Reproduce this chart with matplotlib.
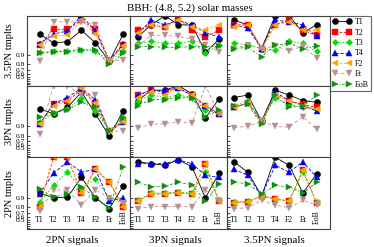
import numpy as np
import matplotlib.pyplot as plt
from matplotlib.lines import Line2D

plt.rcParams['font.family'] = ['Liberation Serif', 'DejaVu Serif']

families = ['T1', 'T2', 'T3', 'T4', 'F2', 'Et', 'EoB']
col_titles = ['2PN signals', '3PN signals', '3.5PN signals']
row_titles = ['3.5PN tmplts', '3PN tmplts', '2PN tmplts']

# matches, one list per template family, values over signal family T1..EoB
m35_2 = [[0.980, 0.961, 0.964, 0.985, 0.961, 0.845, 0.980],
         [0.954, 0.986, 0.986, 0.993, 0.986, 0.845, 0.954],
         [0.920, 0.925, 0.930, 0.935, 0.930, 0.850, 0.925],
         [0.958, 0.980, 0.984, 0.995, 0.984, 0.855, 0.958],
         [0.955, 0.977, 0.978, 0.993, 0.980, 0.845, 0.950],
         [0.850, 0.992, 0.992, 0.992, 0.990, 0.845, 0.857],
         [0.913, 0.924, 0.924, 0.933, 0.933, 0.800, 0.913]]
m35_3 = [[0.975, 0.990, 0.995, 0.990, 0.990, 0.920, 0.970],
         [0.985, 0.990, 0.988, 0.994, 0.985, 0.975, 0.985],
         [0.960, 0.965, 0.960, 0.960, 0.965, 0.913, 0.955],
         [0.980, 0.993, 0.990, 0.993, 0.990, 0.982, 0.975],
         [0.982, 0.990, 0.988, 0.993, 0.988, 0.985, 0.990],
         [0.950, 0.978, 0.978, 0.976, 0.970, 0.955, 0.924],
         [0.948, 0.948, 0.945, 0.945, 0.948, 0.948, 0.950]]
m35_35 = [[0.993, 0.990, 0.940, 0.995, 0.995, 0.982, 0.990],
          [0.990, 0.990, 0.940, 0.990, 0.993, 0.985, 0.978],
          [0.960, 0.955, 0.940, 0.933, 0.965, 0.960, 0.925],
          [0.990, 0.987, 0.940, 0.993, 0.992, 0.990, 0.976],
          [0.988, 0.990, 0.940, 0.990, 0.992, 0.985, 0.985],
          [0.940, 0.955, 0.940, 0.950, 0.930, 0.950, 0.875],
          [0.940, 0.945, 0.888, 0.954, 0.960, 0.940, 0.950]]
m3_2 = [[0.972, 0.960, 0.975, 0.992, 0.960, 0.790, 0.968],
        [0.913, 0.981, 0.985, 0.993, 0.982, 0.857, 0.930],
        [0.925, 0.962, 0.972, 0.988, 0.968, 0.860, 0.935],
        [0.913, 0.981, 0.988, 0.994, 0.986, 0.857, 0.925],
        [0.913, 0.978, 0.985, 0.994, 0.982, 0.857, 0.928],
        [0.820, 0.995, 0.995, 0.990, 0.990, 0.850, 0.860],
        [0.948, 0.962, 0.970, 0.983, 0.975, 0.860, 0.948]]
m3_3 = [[0.985, 0.993, 0.993, 0.995, 0.991, 0.945, 0.987],
        [0.990, 0.993, 0.992, 0.994, 0.990, 0.978, 0.960],
        [0.985, 0.990, 0.988, 0.990, 0.988, 0.970, 0.962],
        [0.990, 0.993, 0.993, 0.994, 0.990, 0.978, 0.958],
        [0.988, 0.992, 0.990, 0.994, 0.990, 0.978, 0.962],
        [0.884, 0.913, 0.917, 0.929, 0.920, 0.995, 0.960],
        [0.978, 0.986, 0.986, 0.988, 0.988, 0.950, 0.970]]
m3_35 = [[0.988, 0.990, 0.930, 0.993, 0.990, 0.985, 0.983],
         [0.975, 0.982, 0.930, 0.990, 0.985, 0.980, 0.975],
         [0.978, 0.985, 0.930, 0.988, 0.980, 0.975, 0.970],
         [0.975, 0.982, 0.930, 0.992, 0.985, 0.978, 0.968],
         [0.975, 0.982, 0.930, 0.990, 0.985, 0.978, 0.972],
         [0.888, 0.900, 0.930, 0.898, 0.893, 0.950, 0.875],
         [0.978, 0.980, 0.913, 0.990, 0.975, 0.978, 0.990]]
m2_2 = [[0.930, 0.900, 0.905, 0.978, 0.900, 0.780, 0.959],
        [0.810, 0.995, 0.995, 0.928, 0.988, 0.968, 0.810],
        [0.860, 0.960, 0.985, 0.950, 0.975, 0.900, 0.870],
        [0.924, 0.984, 0.993, 0.985, 0.988, 0.873, 0.900],
        [0.810, 0.995, 0.995, 0.932, 0.988, 0.968, 0.810],
        [0.730, 0.944, 0.944, 0.830, 0.944, 0.900, 0.850],
        [0.948, 0.905, 0.927, 0.954, 0.905, 0.790, 0.990]]
m2_3 = [[0.993, 0.992, 0.991, 0.994, 0.990, 0.900, 0.984],
        [0.873, 0.924, 0.926, 0.932, 0.924, 0.992, 0.873],
        [0.880, 0.930, 0.930, 0.935, 0.930, 0.985, 0.880],
        [0.992, 0.992, 0.992, 0.994, 0.992, 0.981, 0.978],
        [0.873, 0.924, 0.926, 0.932, 0.924, 0.992, 0.873],
        [0.780, 0.810, 0.810, 0.810, 0.810, 0.944, 0.873],
        [0.968, 0.956, 0.958, 0.968, 0.962, 0.873, 0.965]]
m2_35 = [[0.993, 0.985, 0.913, 0.995, 0.991, 0.930, 0.983],
         [0.857, 0.865, 0.913, 0.890, 0.870, 0.987, 0.857],
         [0.865, 0.870, 0.913, 0.895, 0.875, 0.985, 0.865],
         [0.988, 0.981, 0.913, 0.991, 0.985, 0.993, 0.978],
         [0.857, 0.865, 0.913, 0.890, 0.870, 0.987, 0.857],
         [0.780, 0.790, 0.880, 0.830, 0.790, 0.880, 0.830],
         [0.968, 0.965, 0.924, 0.960, 0.955, 0.930, 0.968]]

panels = [[m35_2, m35_3, m35_35],
          [m3_2, m3_3, m3_35],
          [m2_2, m2_3, m2_35]]

styles = [dict(color='black', marker='o', ls='-'),
          dict(color='red', marker='s', ls=(0, (3, 2))),
          dict(color='#00e000', marker='D', ls=(0, (2, 2))),
          dict(color='blue', marker='^', ls=(0, (4, 2))),
          dict(color='orange', marker='<', ls=(0, (3, 2))),
          dict(color='rosybrown', marker='v', ls=(0, (4, 3))),
          dict(color='#109010', marker='>', ls=(0, (3, 2, 1, 2)))]
msizes = [4.4, 3.8, 3.2, 4.2, 4.2, 4.2, 4.2]


def fwd(y):
    return -np.log10(np.clip(1.0 - np.asarray(y, float), 1e-5, None))


def inv(t):
    return 1.0 - 10.0 ** (-np.asarray(t, float))


W, H = 374.0, 247.0
col_px = [(27, 130), (130, 227), (227, 330)]
row_px = [(15.7, 85.7), (85.7, 157.3), (157.3, 229)]
xlims = [(0.1, 7.48), (0.43, 7.59), (0.49, 7.97)]
xs = np.arange(1, 8)

fig = plt.figure(figsize=(W / 100, H / 100), dpi=100)

for r in range(3):
    for c in range(3):
        x0, x1 = col_px[c]
        y0, y1 = row_px[r]
        ax = fig.add_axes([x0 / W, 1 - y1 / H, (x1 - x0) / W, (y1 - y0) / H])
        ax.set_yscale('function', functions=(fwd, inv))
        for k, fam in enumerate(families):
            st = styles[k]
            ax.plot(xs, panels[r][c][k], color=st['color'], ls=st['ls'],
                    marker=st['marker'], mfc=st['color'], mec=st['color'],
                    ms=msizes[k], lw=0.6, mew=0.3)
        ax.set_ylim(0.0, 0.995)
        ax.set_xlim(*xlims[c])
        ax.set_xticks([])
        ax.set_yticks([0.5, 0.6, 0.7, 0.8, 0.9])
        ax.set_yticks([0.1, 0.2, 0.3, 0.4], minor=True)
        ax.tick_params(axis='y', which='both', direction='in', length=2.5,
                       width=0.5, labelsize=5.4, pad=1.5)
        if c == 0:
            ax.set_yticklabels(['0.5', '0.6', '0.7', '0.8', '0.9'])
            ax.set_ylabel(row_titles[r], fontsize=7.5, labelpad=1)
        else:
            ax.set_yticklabels([])
        for sp in ax.spines.values():
            sp.set_color('#404040')
            sp.set_linewidth(0.8)
        if r == 2:
            for k, fam in enumerate(families):
                if fam == 'EoB':
                    ax.text(xs[k], 0.17, fam, rotation=90, ha='center',
                            va='center', fontsize=5.6,
                            transform=ax.get_xaxis_transform())
                else:
                    ax.text(xs[k], 0.125, fam, ha='center', va='center',
                            fontsize=5.6, transform=ax.get_xaxis_transform())

col_lab_x = [72.5, 175, 274]
for c in range(3):
    fig.text(col_lab_x[c] / W, 1 - 240 / H, col_titles[c], ha='center',
             va='center', fontsize=7.8)

fig.text(190 / W, 1 - 8 / H, 'BBH: (4.8, 5.2) solar masses', ha='center',
         va='center', fontsize=7.8)

handles = [Line2D([], [], color=s['color'], ls=s['ls'], marker=s['marker'],
                  mfc=s['color'], mec=s['color'], ms=msizes[k], lw=0.6, mew=0.3)
           for k, s in enumerate(styles)]
leg = fig.legend(handles, families, loc='upper left',
                 bbox_to_anchor=(330 / W, 1 - 15.7 / H), borderaxespad=0,
                 frameon=True, fancybox=False, edgecolor='#404040',
                 fontsize=5.8, numpoints=2, handlelength=2.4,
                 handletextpad=0.4, labelspacing=0.3, borderpad=0.3)
leg.get_frame().set_linewidth(0.8)

fig.savefig('out.png', dpi=100)
